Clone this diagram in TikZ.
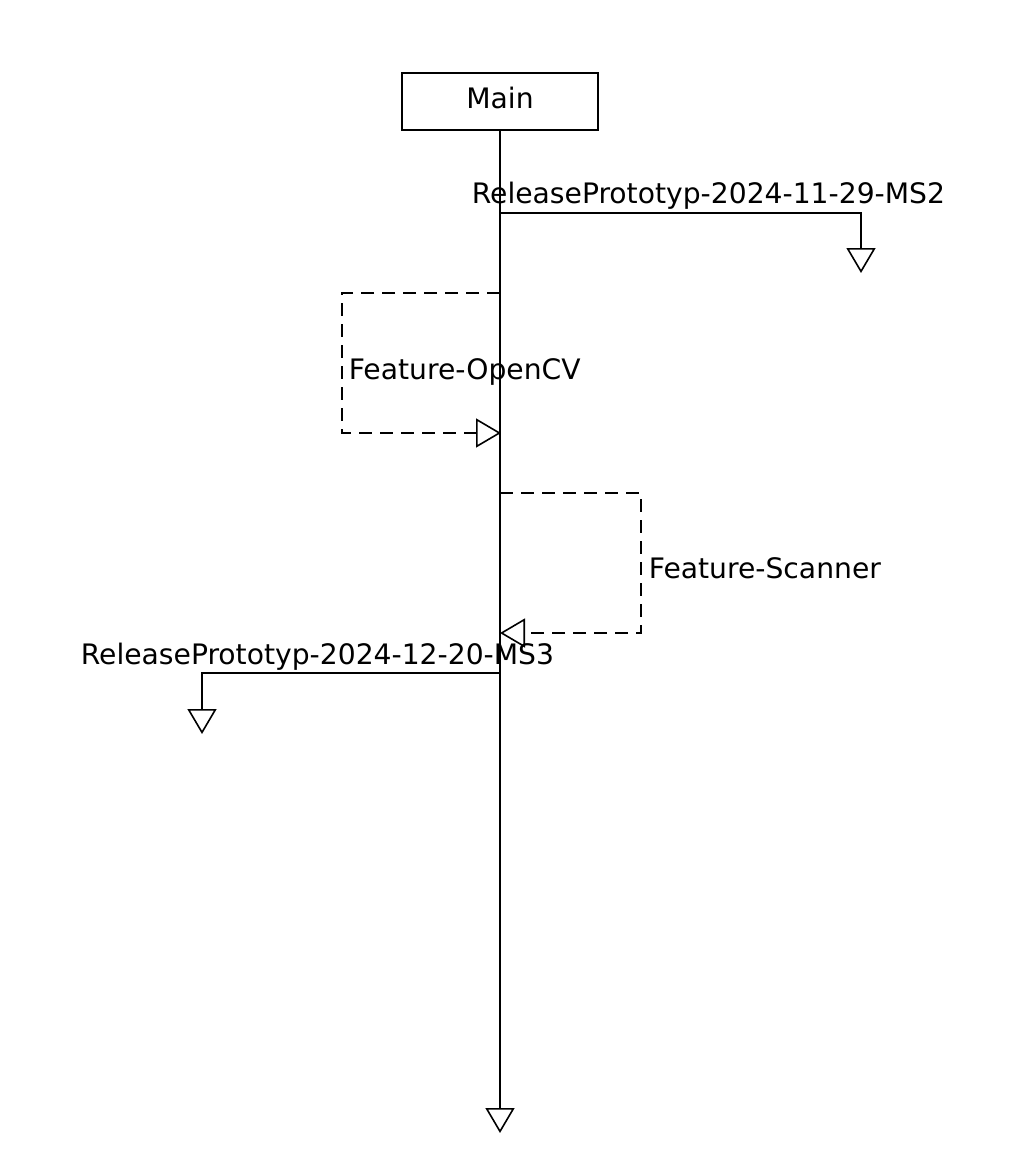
\documentclass[tikz,border=0pt]{standalone}
\usepackage{fontspec}
\setmainfont{DejaVu Sans}
\usetikzlibrary{arrows.meta}
\begin{document}
\begin{tikzpicture}[x=1pt,y=-1pt,
  line width=1.6pt,
  opentip/.style={-{Triangle[open,length=25pt,width=29pt,line width=1.6pt]}},
  dashline/.style={dash pattern=on 13pt off 8pt},
  lbl/.style={font=\fontsize{28.2}{32}\selectfont,inner sep=0pt,anchor=base west}]
\useasboundingbox (0,0) rectangle (1028,1174);
\node[draw,minimum width=196pt,minimum height=57pt,inner sep=0pt] (main) at (500,101.5) {};
\node[font=\fontsize{28.2}{32}\selectfont,inner sep=0pt,anchor=base] (mainlbl) at (500,109) {Main};
\coordinate (endmain) at (500,1133);
\draw[opentip] (main.south) -- (endmain);
% branch 1
\coordinate (b1) at (500,213);
\coordinate (e1) at (861,273);
\draw[opentip] (b1) -| (e1);
\node[lbl] (l1) at (471,204) {ReleasePrototyp-2024-11-29-MS2};
% feature OpenCV
\coordinate (f1s) at (500,293);
\coordinate (f1a) at (342,293);
\coordinate (f1b) at (342,433);
\coordinate (f1e) at (501,433);
\draw[dashline,opentip] (f1s) -- (f1a) -- (f1b) -- (f1e);
\node[lbl] (l2) at (348,379) {Feature-OpenCV};
% feature Scanner
\coordinate (f2s) at (500,493);
\coordinate (f2a) at (641,493);
\coordinate (f2b) at (641,633);
\coordinate (f2e) at (500,633);
\draw[dashline,opentip] (f2s) -- (f2a) -- (f2b) -- (f2e);
\node[lbl] (l3) at (648,578) {Feature-Scanner};
% branch 2
\coordinate (b2) at (500,673);
\coordinate (e2) at (202,734);
\draw[opentip] (b2) -| (e2);
\node[lbl] (l4) at (80,664) {ReleasePrototyp-2024-12-20-MS3};
\end{tikzpicture}
\end{document}
